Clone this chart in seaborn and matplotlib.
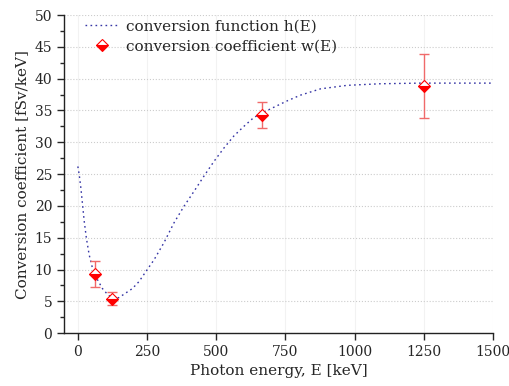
import numpy as np
import pandas as pd
import seaborn as sns
import matplotlib.pyplot as plt
from matplotlib.ticker import MultipleLocator

# conversion function h(E)
curve_E = [0, 5, 11, 17, 23, 31, 41, 53, 71, 89, 107, 128, 149, 173, 197, 221, 243,
           275, 311, 347, 383, 420, 456, 492, 528, 564, 600, 636, 666, 708, 756,
           804, 877, 973, 1093, 1237, 1400, 1500]
curve_h = [26.2, 24.9, 22.8, 20.2, 17.6, 14.9, 12.3, 10.2, 8.4, 7.0, 6.1, 5.4, 5.6, 6.3,
           7.0, 8.1, 9.5, 11.5, 14.2, 17.3, 19.9, 22.3, 24.7, 27.0, 29.1, 31.0, 32.5,
           33.9, 34.6, 35.5, 36.5, 37.4, 38.4, 38.95, 39.2, 39.3, 39.3, 39.3]

# conversion coefficient w(E) with uncertainties
point_E = [61, 122, 664, 1252]
point_w = [9.3, 5.4, 34.3, 38.85]
point_err = [2.0, 1.0, 2.1, 5.1]

sns.set_style("ticks")
plt.rcParams['font.family'] = ['DejaVu Serif']

fig = plt.figure(figsize=(5.1, 3.86), dpi=100)
ax = fig.add_axes([0.1255, 0.137, 0.841, 0.824])

curve = pd.DataFrame({"E": curve_E, "h": curve_h})
sns.lineplot(data=curve, x="E", y="h", ax=ax, color="#3535a5", linewidth=1.0,
             dashes=False, label="conversion function h(E)")
ax.lines[0].set_dashes((1.2, 2.4))

ax.errorbar(point_E, point_w, yerr=point_err, fmt="none", ecolor="#f06a6a",
            elinewidth=1.0, capsize=3.5, capthick=1.0)
ax.plot(point_E, point_w, linestyle="none", marker="D", markersize=6.5,
        fillstyle="bottom", color="red", markerfacecoloralt="white",
        markeredgecolor="red", markeredgewidth=0.8,
        label="conversion coefficient w(E)")

ax.set_xlim(-50, 1500)
ax.set_ylim(0, 50)
ax.xaxis.set_major_locator(MultipleLocator(250))
ax.yaxis.set_major_locator(MultipleLocator(5))
ax.yaxis.set_minor_locator(MultipleLocator(2.5))
ax.tick_params(axis="both", which="major", length=5, width=1.0, labelsize=10)
ax.tick_params(axis="y", which="minor", length=3, width=1.0)

ax.grid(axis="y", linestyle=":", color="#cccccc", linewidth=0.8)
ax.grid(axis="x", linestyle="-", color="#f2f2f2", linewidth=0.8)
ax.set_axisbelow(True)

sns.despine(ax=ax)
for s in ["left", "bottom"]:
    ax.spines[s].set_linewidth(1.0)
    ax.spines[s].set_color("#222222")

ax.set_xlabel("Photon energy, E [keV]", fontsize=11)
ax.set_ylabel("Conversion coefficient [fSv/keV]", fontsize=11)

leg = ax.legend(loc="upper left", frameon=False, fontsize=11, handlelength=2.2,
                handletextpad=0.5, borderaxespad=0, labelspacing=0.4,
                bbox_to_anchor=(0.034, 1.006))

fig.savefig("out.png", dpi=100)
